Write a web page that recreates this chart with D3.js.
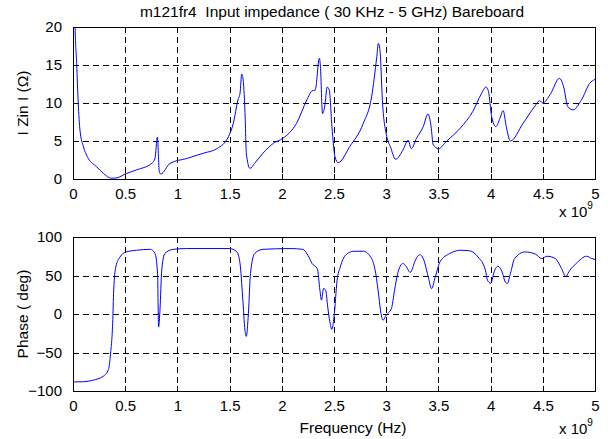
<!DOCTYPE html>
<html>
<head>
<meta charset="utf-8">
<script src="https://cdn.jsdelivr.net/npm/d3@7"></script>
<style>
html,body{margin:0;padding:0;background:#fff;}
svg{display:block;font-family:"Liberation Sans",Arial,sans-serif;}
text{white-space:pre;}
</style>
</head>
<body>
<svg id="chart" width="616" height="439"></svg>
<script>
// ---- data (frequency in GHz; converted to Hz when plotted) ----
const zinFreq = [0.0,0.02,0.035,0.05,0.067,0.1,0.147,0.227,0.29,0.37,0.42,0.5,0.61,0.754,0.785,0.808,0.827,0.84,0.93,1.09,1.25,1.38,1.49,1.535,1.58,1.6,1.616,1.63,1.65,1.66,1.695,1.74,1.82,1.92,2.01,2.14,2.24,2.29,2.32,2.36,2.37,2.39,2.41,2.435,2.455,2.48,2.51,2.54,2.65,2.78,2.86,2.91,2.925,2.94,2.965,3.005,3.04,3.09,3.16,3.21,3.24,3.29,3.355,3.40,3.43,3.45,3.50,3.58,3.71,3.83,3.915,3.955,3.98,4.01,4.05,4.09,4.12,4.15,4.19,4.31,4.42,4.47,4.50,4.57,4.66,4.70,4.74,4.79,4.87,4.95,5.0];
const zinMag  = [40,20,15.2,10,6.4,4.25,2.7,1.6,0.75,0.1,0.15,0.66,1.2,2.06,2.7,5.5,0.96,0.66,2.06,2.7,3.4,4.0,5.6,7.3,10.4,11.3,13.8,13.0,7.8,3.4,1.4,2.06,3.4,4.7,5.35,7.3,10.4,11.6,11.7,15.9,14.8,8.6,9.5,12.1,11.7,6.9,2.9,2.15,4.25,7.3,10.8,16.1,17.85,17.0,10.0,5.6,4.25,2.6,3.8,5.1,4.0,5.35,6.9,8.55,6.9,4.5,4.0,5.0,6.7,8.9,11.3,12.1,11.5,8.2,6.9,8.0,9.0,6.9,5.0,7.3,9.5,10.3,10.0,11.1,13.25,12.1,9.5,9.1,10.4,12.6,13.1];

const phFreq = [0.0,0.1,0.19,0.29,0.34,0.36,0.38,0.39,0.41,0.45,0.51,0.61,0.74,0.785,0.81,0.82,0.833,0.85,0.88,0.96,1.09,1.5,1.57,1.6,1.625,1.647,1.66,1.68,1.70,1.74,1.82,2.08,2.2,2.25,2.29,2.34,2.365,2.38,2.40,2.42,2.44,2.46,2.48,2.50,2.53,2.56,2.61,2.69,2.78,2.86,2.90,2.93,2.95,2.97,3.0,3.05,3.08,3.11,3.16,3.19,3.23,3.28,3.32,3.355,3.40,3.435,3.47,3.515,3.61,3.71,3.80,3.88,3.95,3.97,4.0,4.04,4.07,4.11,4.14,4.16,4.19,4.23,4.33,4.43,4.49,4.54,4.62,4.68,4.72,4.76,4.82,4.92,4.97,5.0];
const phDeg  = [-88.2,-88,-86,-80.8,-72,-51,-12,31,61,74,80.6,82.8,84,78.6,52.6,-17,5,57,78.6,84,85,85,80.6,65.6,22,-21,-29,0.6,52.6,78.6,84,85,84,76.4,65.6,59,31,18,33,31,9,-10,-20,-4,44,61,76.4,81.5,81.5,72,52.6,22,0.6,-8,-1.5,7,31,52.6,65.6,62,54,70,77,72,50,33,48,67.7,78.6,82.8,82,74,57,44,40,57,62,54.7,41.7,39.6,52.6,72,80.6,77.7,72,75,72,59,49,57,65.6,75,72,70.8];

const xTicks = [0,0.5,1,1.5,2,2.5,3,3.5,4,4.5,5];
const zinTicks = [0,5,10,15,20];
const phTicks = [-100,-50,0,50,100];

const titleText = "m121fr4  Input impedance ( 30 KHz - 5 GHz) Bareboard";
const zinLabel = "I Zin I (\u03A9)";
const phLabel = "Phase ( deg)";
const xLabel = "Frequency (Hz)";

// ---- layout ----
const svg = d3.select("#chart");
const L = 73, R = 595;
const FS = 15, LFS = 15.5;
const x = d3.scaleLinear().domain([0, 5e9]).range([L, R]);

function panel(top, bottom, yDomain, yTicks, fx, fy, ylab, id, showXLabel) {
  const y = d3.scaleLinear().domain(yDomain).range([bottom, top]);
  const g = svg.append("g");
  svg.append("clipPath").attr("id", id).append("rect")
    .attr("x", L).attr("y", top).attr("width", R - L).attr("height", bottom - top);
  const gridStyle = s => s.attr("stroke", "#000").attr("stroke-width", 1)
    .attr("stroke-dasharray", "6,4").attr("shape-rendering", "crispEdges");
  g.append("g").selectAll("line").data(xTicks.slice(1, -1)).join("line")
    .attr("x1", d => Math.round(x(d * 1e9)) + 0.5).attr("x2", d => Math.round(x(d * 1e9)) + 0.5)
    .attr("y1", top).attr("y2", bottom).call(gridStyle);
  g.append("g").selectAll("line").data(yTicks.slice(1, -1)).join("line")
    .attr("y1", d => Math.round(y(d)) + 0.5).attr("y2", d => Math.round(y(d)) + 0.5)
    .attr("x1", L).attr("x2", R).call(gridStyle);
  const pts = fx.map((f, i) => [f * 1e9, fy[i]]);
  g.append("path").datum(pts)
    .attr("clip-path", `url(#${id})`)
    .attr("fill", "none").attr("stroke", "#0000ff").attr("stroke-width", 1)
    .attr("d", d3.line().curve(d3.curveMonotoneX).x(d => x(d[0])).y(d => y(d[1])));
  const tickLen = 5;
  const axB = g.append("g").attr("transform", `translate(0,${bottom})`)
    .call(d3.axisBottom(x).tickValues(xTicks.map(v => v * 1e9)).tickFormat(v => d3.format("")(+(v / 1e9).toFixed(1)))
      .tickSizeInner(-tickLen).tickSizeOuter(0).tickPadding(9));
  const axT = g.append("g").attr("transform", `translate(0,${top})`)
    .call(d3.axisTop(x).tickValues(xTicks.map(v => v * 1e9)).tickFormat("")
      .tickSizeInner(-tickLen).tickSizeOuter(0));
  const axL = g.append("g").attr("transform", `translate(${L},0)`)
    .call(d3.axisLeft(y).tickValues(yTicks).tickSizeInner(-tickLen).tickSizeOuter(0).tickPadding(11));
  const axR = g.append("g").attr("transform", `translate(${R},0)`)
    .call(d3.axisRight(y).tickValues(yTicks).tickFormat("").tickSizeInner(-tickLen).tickSizeOuter(0));
  [axB, axT, axL, axR].forEach(a => {
    a.selectAll(".domain").attr("stroke", "#000").attr("shape-rendering", "crispEdges");
    a.selectAll(".tick line").attr("stroke", "#000").attr("shape-rendering", "crispEdges");
    a.selectAll("text").attr("font-size", FS).attr("fill", "#000")
      .attr("font-family", "'Liberation Sans',Arial,sans-serif");
  });
  svg.append("text").attr("transform", `translate(28,${(top + bottom) / 2}) rotate(-90)`)
    .attr("text-anchor", "middle").attr("font-size", LFS).text(ylab);
  const ex = svg.append("text").attr("x", 559)
    .attr("y", showXLabel ? bottom + 43 : bottom + 38).attr("font-size", FS);
  ex.append("tspan").text("x 10");
  ex.append("tspan").attr("dy", -8).attr("font-size", 10).text("9");
  if (showXLabel) {
    svg.append("text").attr("x", 353).attr("y", bottom + 42)
      .attr("text-anchor", "middle").attr("font-size", LFS).text(xLabel);
  }
}

panel(27, 179, [0, 20], zinTicks, zinFreq, zinMag, zinLabel, "clipTop", false);
panel(237, 391, [-100, 100], phTicks, phFreq, phDeg, phLabel, "clipBot", true);

svg.append("text").attr("x", 332).attr("y", 17).attr("text-anchor", "middle")
  .attr("font-size", LFS).text(titleText);
</script>
</body>
</html>
